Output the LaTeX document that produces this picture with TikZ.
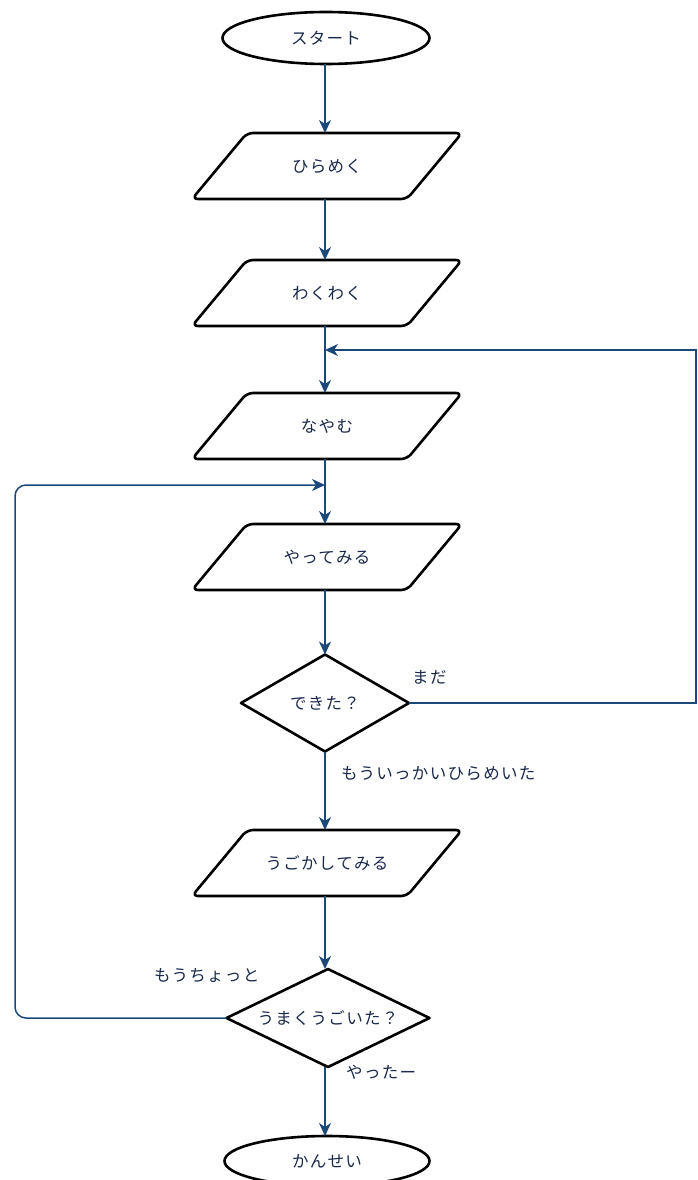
\documentclass[tikz,border=0pt]{standalone}
\usepackage{fontspec}
\setmainfont{Noto Sans CJK JP}[LetterSpace=8]
\usetikzlibrary{shapes.geometric,arrows.meta,calc}
\definecolor{txt}{RGB}{25,40,75}
\definecolor{arr}{RGB}{27,72,122}
\tikzset{
  x=1pt,y=-1pt,
  every node/.style={text=txt,font=\fontsize{16.5}{19}\selectfont},
  shapeline/.style={draw=black,line width=2.6pt,line join=round},
  terminal/.style={shapeline,ellipse,minimum width=207pt,minimum height=52pt,inner sep=0pt,outer sep=0pt},
  paratext/.style={minimum width=270pt,minimum height=66pt,inner sep=0pt,outer sep=0pt},
  decision/.style={shapeline,diamond,inner sep=0pt,outer sep=0pt,aspect=2},
  conn/.style={draw=arr,line width=1.5pt,-{Stealth[length=13pt,width=12pt,inset=4pt]}},
  lbl/.style={inner sep=0pt,anchor=west}
}
\newcommand{\paranode}[3]{%
  \node[paratext] (#1) at #2 {#3};
  \draw[shapeline,rounded corners=6pt]
    ([xshift=55pt]#1.north west) -- (#1.north east)
    -- ([xshift=-55pt]#1.south east) -- (#1.south west) -- cycle;
}
\begin{document}
\begin{tikzpicture}
\useasboundingbox (0,0) rectangle (697,1180);
\node[terminal] (start) at (326,38) {スタート};
\paranode{p1}{(327,166)}{ひらめく}
\paranode{p2}{(327,293)}{わくわく}
\paranode{p3}{(327,426)}{なやむ}
\paranode{p4}{(327,557)}{やってみる}
\node[decision,minimum width=168pt,minimum height=97pt] (d1) at (325,703) {できた？};
\paranode{p5}{(327,863)}{うごかしてみる}
\node[decision,minimum width=203pt,minimum height=98pt] (d2) at (328,1018) {うまくうごいた？};
\node[terminal,minimum width=205pt,minimum height=50pt] (end) at (327,1161) {かんせい};

\coordinate (m1) at (325,350);
\coordinate (m2) at (325,485);
\coordinate (r1) at (696,703);
\coordinate (r2) at (696,350);
\coordinate (l1) at (15,1018);
\coordinate (l2) at (15,485);

\draw[conn] (start.south -| m1) -- (p1.north -| m1);
\draw[conn] (p1.south -| m1) -- (p2.north -| m1);
\draw[conn] (p2.south -| m1) -- (p3.north -| m1);
\draw[conn] (p3.south -| m1) -- (p4.north -| m1);
\draw[conn] (p4.south -| m1) -- (d1.north);
\draw[conn] (d1.south) -- (p5.north -| m1);
\draw[conn] (p5.south -| m1) -- (d2.north -| m1);
\draw[conn] (d2.south -| m1) -- (end.north -| m1);

\draw[conn] (d1.east) -- (r1) -- (r2) -- (m1);
\draw[conn,rounded corners=11pt] (d2.west) -- (l1) -- (l2) -- (m2);

\node[lbl] (la) at (412,677) {まだ};
\node[lbl] (lb) at (341,773) {もういっかいひらめいた};
\node[lbl] (lc) at (154,975) {もうちょっと};
\node[lbl] (ld) at (346,1072) {やったー};
\end{tikzpicture}
\end{document}
